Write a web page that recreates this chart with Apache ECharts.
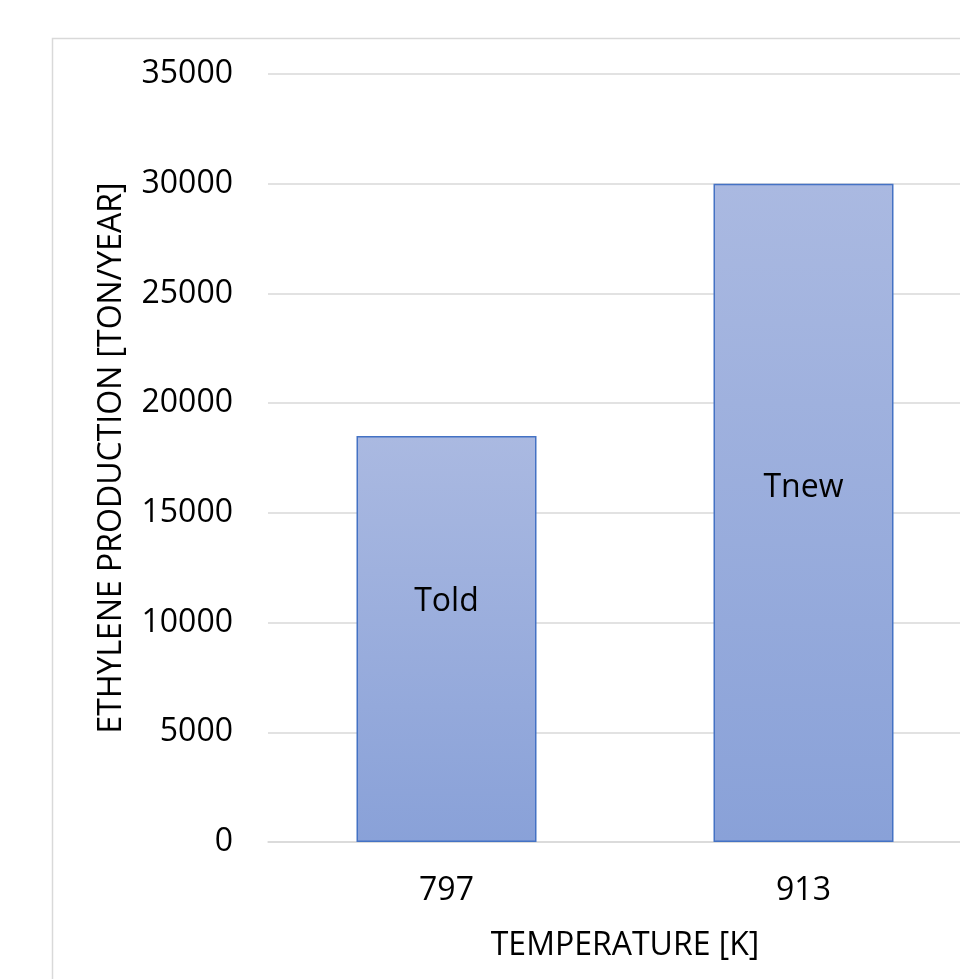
<!DOCTYPE html>
<html>
<head>
<meta charset="utf-8">
<script src="https://cdn.jsdelivr.net/npm/echarts@6/dist/echarts.min.js"></script>
<style>
  html, body { margin: 0; padding: 0; overflow: hidden; background: #fff; }
  #chart { width: 990px; height: 979px; }
</style>
</head>
<body>
<div id="chart"></div>
<script>
// Ethylene output at two reactor temperatures
const temperatures = ['797', '913'];
const production = [18500, 30000];
const barNames = ['Told', 'Tnew'];
const labelOffsets = [-37, -25];
const yTicks = { min: 0, max: 35000, interval: 5000 };

const FONT = 'Open Sans';
const SIZE = 32;

const chart = echarts.init(document.getElementById('chart'), null, { renderer: 'canvas' });

chart.setOption({
  animation: false,
  backgroundColor: '#fff',
  graphic: [{
    type: 'rect',
    shape: { x: 52.5, y: 38.5, width: 1000, height: 1000 },
    style: { fill: 'none', stroke: '#d9d9d9', lineWidth: 1.5 },
    silent: true
  }],
  grid: { left: 268, right: 8, top: 74, bottom: 137, containLabel: false },
  xAxis: {
    type: 'category',
    data: temperatures,
    name: 'TEMPERATURE [K]',
    nameLocation: 'middle',
    nameGap: 88,
    nameTextStyle: { fontFamily: FONT, fontSize: SIZE, color: '#000' },
    axisLine: { show: true, lineStyle: { color: '#d9d9d9', width: 1.5 } },
    axisTick: { show: false },
    axisLabel: { fontFamily: FONT, fontSize: SIZE, color: '#000', margin: 33 }
  },
  yAxis: {
    type: 'value',
    min: yTicks.min,
    max: yTicks.max,
    interval: yTicks.interval,
    name: 'ETHYLENE PRODUCTION [TON/YEAR]',
    nameLocation: 'middle',
    nameGap: 140,
    nameTextStyle: { fontFamily: FONT, fontSize: SIZE, color: '#000' },
    axisLine: { show: false },
    axisTick: { show: false },
    axisLabel: {
      fontFamily: FONT, fontSize: SIZE, color: '#000', margin: 35,
      formatter: v => String(v)
    },
    splitLine: { lineStyle: { color: '#d9d9d9', width: 1.5 } }
  },
  series: [{
    type: 'bar',
    barWidth: 180,
    data: production.map((v, i) => ({
      value: v,
      label: {
        show: true,
        position: 'inside',
        offset: [0, labelOffsets[i]],
        formatter: barNames[i],
        fontFamily: FONT,
        fontSize: SIZE,
        color: '#000'
      }
    })),
    itemStyle: {
      color: new echarts.graphic.LinearGradient(0, 0, 0, 1, [
        { offset: 0, color: '#aab9e1' },
        { offset: 1, color: '#89a1d8' }
      ]),
      borderColor: '#4472c4',
      borderWidth: 1.5
    }
  }]
});
</script>
</body>
</html>
